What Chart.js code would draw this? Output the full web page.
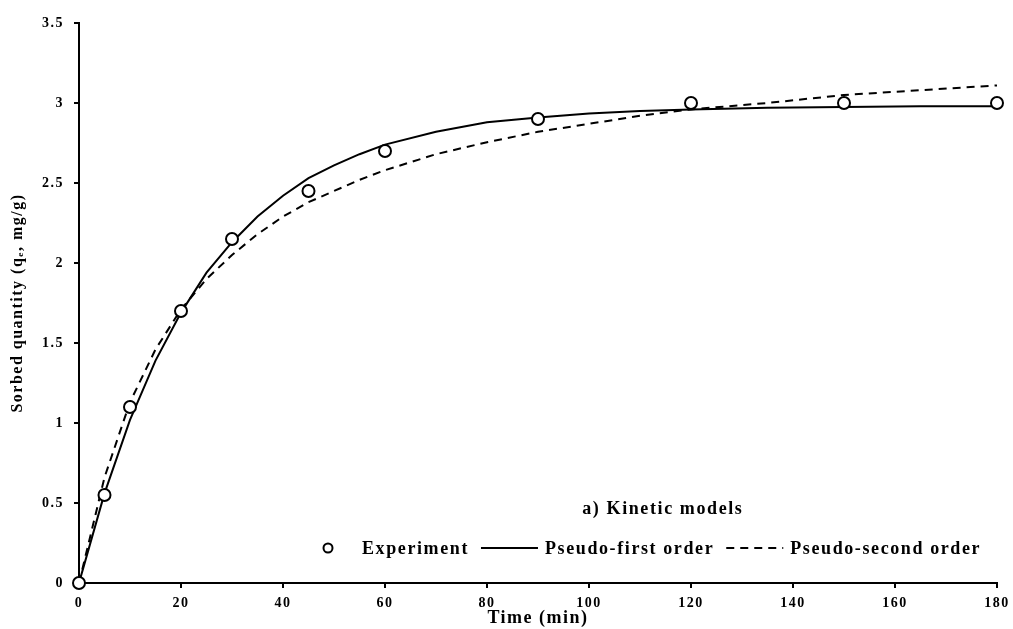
<!DOCTYPE html>
<html>
<head>
<meta charset="utf-8">
<script src="https://cdn.jsdelivr.net/npm/chart.js@4/dist/chart.umd.min.js"></script>
<style>
  body { margin: 0; background: #fff; }
  #wrap { width: 1013px; height: 629px; }
</style>
</head>
<body>
<div id="wrap"><canvas id="kinetics-chart"></canvas></div>
<script>
// experimental points
const expTime = [0, 5, 10, 20, 30, 45, 60, 90, 120, 150, 180];
const expQ = [0, 0.55, 1.1, 1.7, 2.15, 2.45, 2.7, 2.9, 3.0, 3.0, 3.0];

// model curves
const modelTime = [0, 5, 10, 15, 20, 25, 30, 35, 40, 45, 50, 55, 60, 70, 80, 90, 100, 110, 120, 135, 150, 165, 180];
const pfoQ = [0, 0.56, 1.02, 1.39, 1.69, 1.94, 2.13, 2.29, 2.42, 2.53, 2.61, 2.68, 2.74, 2.82, 2.88, 2.91, 2.935, 2.95, 2.96, 2.97, 2.975, 2.98, 2.98];
const psoQ = [0, 0.66, 1.13, 1.46, 1.71, 1.9, 2.05, 2.18, 2.29, 2.38, 2.45, 2.52, 2.58, 2.68, 2.755, 2.82, 2.87, 2.92, 2.96, 3.0, 3.05, 3.08, 3.11];

const xTicks = [0, 20, 40, 60, 80, 100, 120, 140, 160, 180];
const caption = 'a) Kinetic models';

const toPoints = (xs, ys) => xs.map((x, i) => ({ x: x, y: ys[i] }));
const serif = '"Liberation Serif", "Times New Roman", serif';

// the original text is set wide, so space the letters out a bit
const wideText = {
    id: 'wideText',
    beforeLayout(chart) { chart.ctx.letterSpacing = '1.5px'; },
    beforeDraw(chart) { chart.ctx.letterSpacing = '1.5px'; }
};

// legend + caption drawn inside the plot, bottom right
const insideLegend = {
    id: 'insideLegend',
    afterDraw(chart) {
        const ctx = chart.ctx;
        const area = chart.chartArea;
        const sets = chart.data.datasets;
        ctx.save();
        ctx.letterSpacing = '1.6px';
        ctx.font = 'bold 18px ' + serif;
        ctx.fillStyle = '#000';
        ctx.textBaseline = 'middle';

        const y = area.bottom - 35;
        const lineW = 57;
        let x = area.left + 249;
        sets.forEach(ds => {
            if (ds.showLine) {
                ctx.beginPath();
                ctx.lineWidth = ds.borderWidth;
                ctx.strokeStyle = ds.borderColor;
                ctx.setLineDash(ds.borderDash || []);
                ctx.moveTo(x, y);
                ctx.lineTo(x + lineW, y);
                ctx.stroke();
                ctx.setLineDash([]);
                x += lineW + 7;
            } else {
                ctx.beginPath();
                ctx.lineWidth = 2;
                ctx.strokeStyle = '#000';
                ctx.fillStyle = '#fff';
                ctx.arc(x, y, 4.5, 0, Math.PI * 2);
                ctx.fill();
                ctx.stroke();
                ctx.fillStyle = '#000';
                x += 34;
            }
            ctx.fillText(ds.label, x, y + 1);
            x += ctx.measureText(ds.label).width + 12;
        });

        ctx.textAlign = 'center';
        ctx.fillText(caption, area.left + (area.right - area.left) * 0.636, area.bottom - 74);
        ctx.restore();
    }
};

new Chart(document.getElementById('kinetics-chart').getContext('2d'), {
    type: 'scatter',
    data: {
        datasets: [{
            label: 'Experiment',
            data: toPoints(expTime, expQ),
            pointRadius: 6,
            pointHoverRadius: 6,
            pointBorderWidth: 2,
            pointBorderColor: '#000',
            pointBackgroundColor: '#fff',
            showLine: false,
            clip: false,
            order: 0
        }, {
            label: 'Pseudo-first order',
            data: toPoints(modelTime, pfoQ),
            showLine: true,
            borderColor: '#000',
            borderWidth: 2,
            pointRadius: 0,
            tension: 0,
            order: 1
        }, {
            label: 'Pseudo-second order',
            data: toPoints(modelTime, psoQ),
            showLine: true,
            borderColor: '#000',
            borderWidth: 2,
            borderDash: [8, 6],
            pointRadius: 0,
            tension: 0,
            order: 2
        }]
    },
    options: {
        responsive: true,
        maintainAspectRatio: false,
        animation: false,
        layout: { padding: { top: 23, right: 16, left: 0, bottom: 0 } },
        plugins: {
            legend: { display: false },
            tooltip: { enabled: false }
        },
        scales: {
            x: {
                type: 'linear',
                min: 0,
                max: 180,
                afterBuildTicks: scale => { scale.ticks = xTicks.map(v => ({ value: v })); },
                afterFit: scale => {
                    scale.height = 46;
                    scale.paddingLeft = 0;
                    scale.paddingRight = 0;
                },
                grid: { drawOnChartArea: false, drawTicks: true, tickLength: 5, color: '#000', lineWidth: 2 },
                border: { color: '#000', width: 2 },
                ticks: { color: '#000', padding: 7, font: { family: serif, size: 14, weight: 'bold' } },
                title: {
                    display: true,
                    text: 'Time (min)',
                    color: '#000',
                    padding: { top: -4, bottom: 0 },
                    font: { family: serif, size: 18, weight: 'bold' }
                }
            },
            y: {
                min: 0,
                max: 3.5,
                afterFit: scale => { scale.width = 79; },
                grid: { drawOnChartArea: false, drawTicks: true, tickLength: 5, color: '#000', lineWidth: 2 },
                border: { color: '#000', width: 2 },
                ticks: {
                    stepSize: 0.5,
                    color: '#000',
                    padding: 10,
                    callback: v => String(v),
                    font: { family: serif, size: 14, weight: 'bold' }
                },
                title: {
                    display: true,
                    text: 'Sorbed quantity (qₑ, mg/g)',
                    color: '#000',
                    padding: { top: 8, bottom: 0 },
                    font: { family: serif, size: 16, weight: 'bold' }
                }
            }
        }
    },
    plugins: [wideText, insideLegend]
});
</script>
</body>
</html>
